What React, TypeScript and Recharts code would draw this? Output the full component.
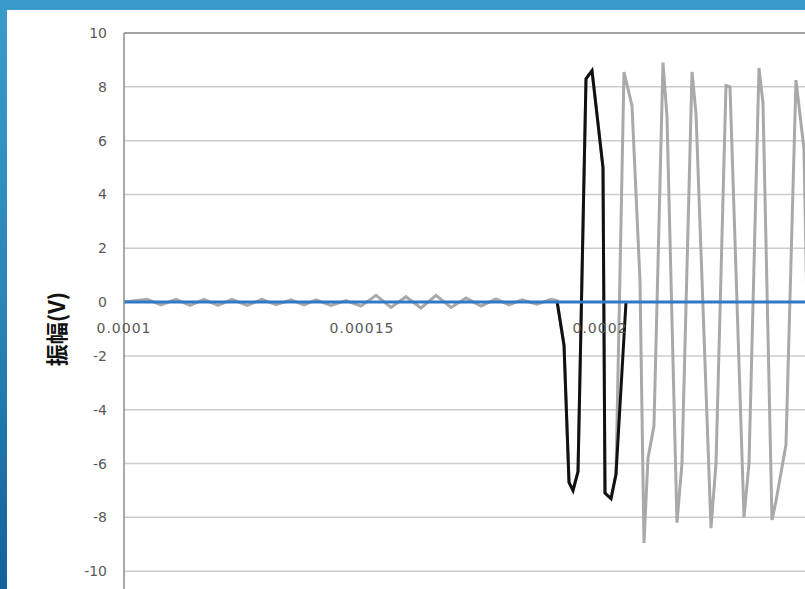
import { LineChart, Line, XAxis, YAxis, CartesianGrid, ReferenceLine } from 'recharts';

// time in microseconds, amplitude in volts
const grayTimes = [
  100.0, 104.83, 107.77, 110.92, 113.87, 116.81, 119.75, 122.69, 125.84, 128.99,
  131.93, 135.08, 137.81, 140.34, 143.49, 146.64, 149.79, 152.94, 156.09, 159.24,
  162.39, 165.55, 168.7, 171.85, 175.0, 178.15, 180.88, 183.61, 186.76, 189.7,
  190.96, 192.44, 193.49, 194.33, 195.38, 197.06, 198.32, 200.63, 201.05, 202.31,
  203.36, 205.04, 206.72, 208.4, 209.24, 210.08, 211.34, 213.23, 214.07, 216.17,
  217.22, 219.33, 220.17, 223.32, 224.37, 226.47, 227.31, 230.25, 231.3, 233.4,
  234.24, 236.13, 236.97, 239.07, 241.17, 242.85, 244.3, 245.5, 248.11, 249.79,
  251.26, 252.31, 254.83, 255.88, 258.19, 259.45, 261.76,
];
const grayValues = [
  0, 0.1, -0.1, 0.1, -0.12, 0.1, -0.12, 0.1, -0.12, 0.1,
  -0.1, 0.08, -0.1, 0.08, -0.12, 0.06, -0.15, 0.25, -0.2, 0.2,
  -0.22, 0.25, -0.2, 0.15, -0.15, 0.12, -0.1, 0.08, -0.08, 0.1,
  0.05, -1.6, -6.7, -7.0, -6.3, 8.3, 8.6, 5.0, -7.1, -7.3,
  -6.4, 8.55, 7.3, 0.8, -8.95, -5.8, -4.6, 8.9, 6.9, -8.2,
  -6.0, 8.55, 7.0, -8.4, -6.0, 8.05, 8.0, -8.0, -6.0, 8.7,
  7.4, -8.1, -7.4, -5.3, 8.25, 5.7, -8.0, -7.0, 8.4, 6.5,
  -8.3, -6.0, 8.6, 7.0, -8.2, -6.0, 8.5,
];

// first burst cycles, highlighted
const blackTimes = [190.96, 192.44, 193.49, 194.33, 195.38, 197.06, 198.32, 200.63, 201.05, 202.31, 203.36, 205.46];
const blackValues = [0.05, -1.6, -6.7, -7.0, -6.3, 8.3, 8.6, 5.0, -7.1, -7.3, -6.4, 0];

const baseTimes = [100, 300];
const baseValues = [0, 0];

const xTicks = [0.0001, 0.00015, 0.0002, 0.00025, 0.0003];
const yTicks = [-12, -10, -8, -6, -4, -2, 0, 2, 4, 6, 8, 10];

const Y_MIN = -12;
const Y_MAX = 10;
const PLOT_TOP = 33;
const PLOT_H = 592;

const toPoints = (ts: number[], vs: number[]) => ts.map((t, i) => ({ t: t / 1e6, v: vs[i] }));

const grayData = toPoints(grayTimes, grayValues);
const blackData = toPoints(blackTimes, blackValues);
const baseData = toPoints(baseTimes, baseValues);

const tickFont = '"DejaVu Sans", sans-serif';

// x labels sit under the zero line, like Excel's "axis crosses at 0"
function XTick({ x, payload }: { x?: number; payload?: { value: number } }) {
  const zeroY = PLOT_TOP + (PLOT_H * Y_MAX) / (Y_MAX - Y_MIN);
  return (
    <text
      x={x}
      y={zeroY + 31}
      textAnchor="middle"
      fontFamily={tickFont}
      fontSize={14}
      letterSpacing={1}
      fill="#595959"
    >
      {String(payload?.value)}
    </text>
  );
}

function TitleLabel({ viewBox }: { viewBox?: { x: number; y: number; height: number } }) {
  if (!viewBox) return null;
  const cx = viewBox.x + 55;
  const cy = viewBox.y + viewBox.height / 2;
  return (
    <text
      x={cx}
      y={cy}
      transform={`rotate(-90 ${cx} ${cy})`}
      textAnchor="middle"
      dominantBaseline="central"
      fontFamily='"Noto Sans CJK JP", sans-serif'
      fontWeight="bold"
      fontSize={22}
      fill="#111"
    >
      振幅(V)
    </text>
  );
}

export default function App() {
  return (
    <div
      style={{
        position: 'fixed',
        left: 0,
        top: 0,
        width: 805,
        height: 589,
        overflow: 'hidden',
        background: 'linear-gradient(180deg, #3a9bcb 0%, #2a85ba 50%, #14619d 100%)',
      }}
    >
      <div style={{ position: 'absolute', left: 7, top: 10, right: 0, bottom: 0, background: '#fff' }} />
      <div style={{ position: 'absolute', left: 0, top: 0 }}>
        <LineChart width={1090} height={660} margin={{ top: PLOT_TOP, right: 14, bottom: 5, left: 0 }}>
          <CartesianGrid vertical={false} stroke="#cccccc" strokeWidth={1.5} />
          <XAxis
            type="number"
            dataKey="t"
            domain={[0.0001, 0.0003]}
            ticks={xTicks}
            interval={0}
            allowDataOverflow
            height={30}
            axisLine={false}
            tickLine={false}
            tick={<XTick />}
          />
          <YAxis
            type="number"
            domain={[Y_MIN, Y_MAX]}
            ticks={yTicks}
            interval={0}
            width={124}
            axisLine={{ stroke: '#8c8c8c', strokeWidth: 1.5 }}
            tickLine={false}
            tickSize={0}
            tickMargin={17}
            tick={{ fontFamily: tickFont, fontSize: 14, fill: '#595959' }}
            label={{ content: <TitleLabel /> }}
          />
          <ReferenceLine y={10} stroke="#a3a3a3" strokeWidth={2} />
          <Line
            data={grayData}
            dataKey="v"
            type="linear"
            stroke="#a9a9a9"
            strokeWidth={3}
            dot={false}
            isAnimationActive={false}
          />
          <Line
            data={blackData}
            dataKey="v"
            type="linear"
            stroke="#111"
            strokeWidth={3}
            dot={false}
            isAnimationActive={false}
          />
          <Line
            data={baseData}
            dataKey="v"
            type="linear"
            stroke="#2f7bc3"
            strokeWidth={3}
            dot={false}
            isAnimationActive={false}
          />
        </LineChart>
      </div>
    </div>
  );
}
